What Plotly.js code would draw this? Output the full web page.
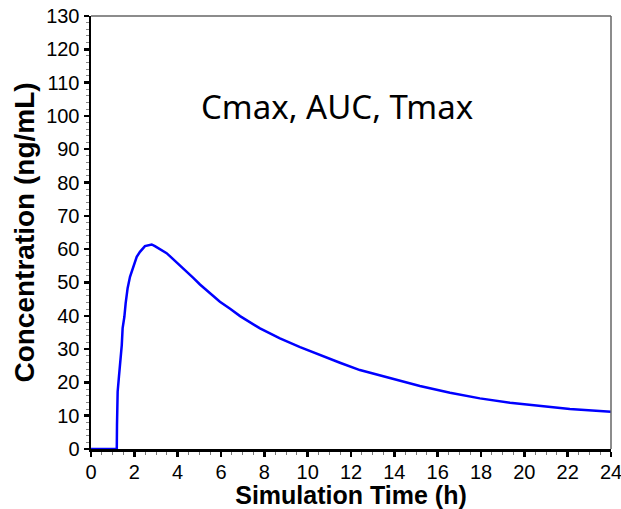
<!DOCTYPE html>
<html>
<head>
<meta charset="utf-8">
<script src="https://cdn.plot.ly/plotly-3.0.1.min.js"></script>
<style>html,body{margin:0;padding:0;background:#fff;}#chart{width:621px;height:509px;}</style>
</head>
<body>
<div id="chart"></div>
<script>
// Simulation time (h)
var timeH = [0, 0.5, 1.0, 1.19, 1.20, 1.23, 1.29, 1.34, 1.42, 1.46, 1.54, 1.60, 1.69, 1.80, 1.91, 2.00, 2.11, 2.26, 2.49, 2.80, 2.95, 3.49, 4.11, 4.72, 5.03, 5.34, 5.95, 6.42, 6.88, 7.80, 8.72, 9.65, 10.57, 11.49, 12.41, 13.80, 15.18, 16.57, 17.95, 19.34, 20.72, 22.10, 24.0];
// Concentration (ng/mL)
var concNgmL = [0, 0, 0, 0, 7.2, 17.2, 21.7, 25.2, 31.2, 36.3, 39.7, 43.8, 48.3, 51.7, 53.7, 55.8, 57.7, 59.2, 60.9, 61.4, 60.9, 58.8, 55.2, 51.4, 49.4, 47.6, 44.2, 42.1, 39.9, 36.2, 33.2, 30.6, 28.2, 25.9, 23.7, 21.2, 18.9, 16.9, 15.2, 13.9, 12.9, 12.0, 11.2];

var xTickVals = [0,2,4,6,8,10,12,14,16,18,20,22,24];
var yTickVals = [0,10,20,30,40,50,60,70,80,90,100,110,120,130];
var annotationText = "Cmax, AUC, Tmax";

var trace = {
  x: timeH, y: concNgmL, type: 'scatter', mode: 'lines',
  line: {color: '#0000ff', width: 2.5, shape: 'linear'},
  cliponaxis: false, hoverinfo: 'skip'
};

var tickFont = {size: 20, family: 'Liberation Sans, Arial, sans-serif', color: '#000'};

var layout = {
  width: 621, height: 509,
  margin: {l: 91, r: 10, t: 16, b: 60},
  paper_bgcolor: '#fff', plot_bgcolor: '#fff',
  showlegend: false,
  font: {family: 'Liberation Sans, Arial, sans-serif', color: '#000'},
  xaxis: {
    range: [0, 24], tickvals: xTickVals, ticktext: xTickVals.map(String),
    showgrid: false, zeroline: false,
    showline: true, linecolor: '#000', linewidth: 2.5,
    ticks: 'outside', ticklen: 5, tickwidth: 2.5, tickcolor: '#000',
    tickfont: tickFont, ticklabeloverflow: 'allow', ticklabelstandoff: -2,
    minor: {dtick: 0.5, ticks: 'outside', ticklen: 3, tickwidth: 1, tickcolor: '#777', showgrid: false},
    title: {text: '<b>Simulation Time (h)</b>', font: {size: 25, color: '#000'}, standoff: 6},
    fixedrange: true
  },
  yaxis: {
    range: [0, 130], tickvals: yTickVals, ticktext: yTickVals.map(String),
    showgrid: false, zeroline: false,
    showline: true, linecolor: '#000', linewidth: 2.5,
    ticks: 'outside', ticklen: 5, tickwidth: 2.5, tickcolor: '#000',
    tickfont: tickFont, ticklabeloverflow: 'allow',
    minor: {dtick: 2, ticks: 'outside', ticklen: 3, tickwidth: 1, tickcolor: '#888', showgrid: false},
    title: {text: '<b>Concentration (ng/mL)</b>', font: {size: 28, color: '#000'}, standoff: 4},
    fixedrange: true
  },
  shapes: [
    {type: 'line', xref: 'paper', yref: 'paper', x0: 0, x1: 1, y0: 1, y1: 1, line: {color: '#666', width: 1.5}},
    {type: 'line', xref: 'paper', yref: 'paper', x0: 1, x1: 1, y0: 0, y1: 1, line: {color: '#666', width: 1.5}}
  ],
  annotations: [{
    text: annotationText, xref: 'paper', yref: 'paper', x: 0.473, y: 0.79,
    xanchor: 'center', yanchor: 'middle', showarrow: false,
    font: {family: 'Noto Sans, sans-serif', size: 33, color: '#000'}
  }]
};

Plotly.newPlot('chart', [trace], layout, {displayModeBar: false, staticPlot: true});
</script>
</body>
</html>
